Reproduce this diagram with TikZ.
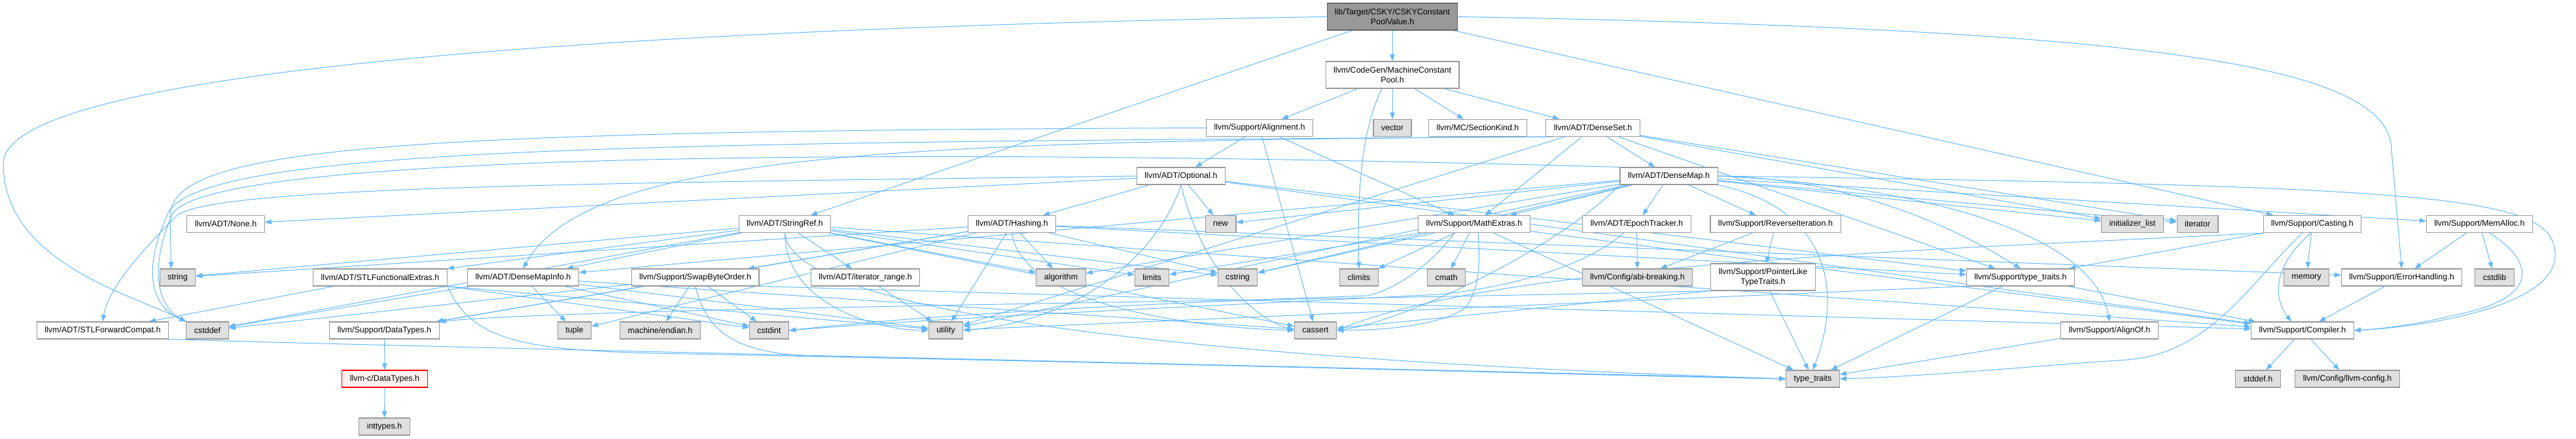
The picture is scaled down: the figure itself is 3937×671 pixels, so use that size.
\documentclass[tikz,border=0pt]{standalone}
\usepackage{fontspec}
\setmainfont{Liberation Sans}
\usepackage{xcolor}
\usepackage{tikz}
\usetikzlibrary{arrows.meta, backgrounds}

\definecolor{edgeblue}{HTML}{63B8FF}
\definecolor{boxgray}{HTML}{999999}
\definecolor{sysfill}{HTML}{E0E0E0}
\definecolor{rootline}{HTML}{666666}
\definecolor{extfill}{HTML}{FFF0F0}

\begin{document}
\begin{tikzpicture}[
    x=1pt, y=-1pt,
    font=\fontsize{12.5}{15}\selectfont,
    hdr/.style={
        rectangle,
        draw=boxgray,
        line width=1.1pt,
        fill=white,
        minimum height=26pt,
        inner xsep=12pt,
        inner ysep=2pt,
        align=center
    },
    sys/.style={hdr, fill=sysfill},
    mainhdr/.style={hdr, draw=rootline, fill=boxgray, minimum height=41pt},
    exthdr/.style={hdr, draw=red, fill=extfill},
    dep/.style={-{Triangle[length=10pt, width=7.5pt]}, draw=edgeblue, line width=1pt}
]
\useasboundingbox (0,0) rectangle (3937,671);

\node[mainhdr] (root)     at (2128, 25.5)  {lib/Target/CSKY/CSKYConstant\\PoolValue.h};
\node[hdr, minimum height=41pt] (mcp) at (2128, 114.5) {llvm/CodeGen/MachineConstant\\Pool.h};

\node[hdr]  (align)    at (1925, 195.5)   {llvm/Support/Alignment.h};
\node[sys]  (vec)      at (2128, 195.5)   {vector};
\node[hdr]  (seckind)  at (2258.5, 195.5) {llvm/MC/SectionKind.h};
\node[hdr]  (dset)     at (2434.5, 195.5) {llvm/ADT/DenseSet.h};

\node[hdr]  (opt)      at (1805, 269)     {llvm/ADT/Optional.h};
\node[hdr]  (dmap)     at (2550.5, 269)   {llvm/ADT/DenseMap.h};

\node[hdr]  (noneh)    at (345, 342.5)    {llvm/ADT/None.h};
\node[hdr]  (sref)     at (1199.5, 342.5) {llvm/ADT/StringRef.h};
\node[hdr]  (hash)     at (1546.5, 342.5) {llvm/ADT/Hashing.h};
\node[sys]  (newh)     at (1865.5, 342.5) {new};
\node[hdr]  (mathx)    at (2253, 342.5)   {llvm/Support/MathExtras.h};
\node[hdr]  (epoch)    at (2501.5, 342.5) {llvm/ADT/EpochTracker.h};
\node[hdr]  (reviter)  at (2713.5, 342.5) {llvm/Support/ReverseIteration.h};
\node[sys]  (initlist) at (3259, 342.5)   {initializer\_list};
\node[sys]  (iter)     at (3358.5, 342.5) {iterator};
\node[hdr]  (casting)  at (3534, 342.5)   {llvm/Support/Casting.h};
\node[hdr]  (memalloc) at (3789.5, 342.5) {llvm/Support/MemAlloc.h};

\node[sys]  (strh)     at (271.5, 424)    {string};
\node[hdr]  (stlfunc)  at (581, 424)      {llvm/ADT/STLFunctionalExtras.h};
\node[hdr]  (dmapinfo) at (799.5, 424)    {llvm/ADT/DenseMapInfo.h};
\node[hdr]  (swap)     at (1062.5, 424)   {llvm/Support/SwapByteOrder.h};
\node[hdr]  (itrange)  at (1322.5, 424)   {llvm/ADT/iterator\_range.h};
\node[sys]  (algo)     at (1621.5, 424)   {algorithm};
\node[sys]  (limits)   at (1760.5, 424)   {limits};
\node[sys]  (cstr)     at (1891.5, 424)   {cstring};
\node[sys]  (climits)  at (2077, 424)     {climits};
\node[sys]  (cmath)    at (2210.5, 424)   {cmath};
\node[sys]  (abibrk)   at (2502.5, 424)   {llvm/Config/abi-breaking.h};
\node[hdr, minimum height=41pt] (ptrlike) at (2694.5, 423.5) {llvm/Support/PointerLike\\TypeTraits.h};
\node[hdr]  (tth)      at (3088, 424)     {llvm/Support/type\_traits.h};
\node[sys]  (memory)   at (3525, 424)     {memory};
\node[hdr]  (errh)     at (3670.5, 424)   {llvm/Support/ErrorHandling.h};
\node[sys]  (cstdlib)  at (3812.5, 424)   {cstdlib};

\node[hdr]  (stlfwd)   at (157, 505)      {llvm/ADT/STLForwardCompat.h};
\node[sys]  (cstddef)  at (317, 505)      {cstddef};
\node[hdr]  (dtypes)   at (587.5, 505)    {llvm/Support/DataTypes.h};
\node[sys]  (tuple)    at (878, 505)      {tuple};
\node[sys]  (endian)   at (1009, 505)     {machine/endian.h};
\node[sys]  (cstdint)  at (1175.5, 505)   {cstdint};
\node[sys]  (utility)  at (1445.5, 505)   {utility};
\node[sys]  (cassert)  at (2010.5, 505)   {cassert};
\node[hdr]  (alignof)  at (3224, 505)     {llvm/Support/AlignOf.h};
\node[hdr]  (compiler) at (3519, 505)     {llvm/Support/Compiler.h};

\node[exthdr] (cdtypes) at (588, 579)     {llvm-c/DataTypes.h};
\node[sys]  (typetr)   at (2770.5, 579)   {type\_traits};
\node[sys]  (stddef)   at (3451, 579)     {stddef.h};
\node[sys]  (llvmcfg)  at (3587.5, 579)   {llvm/Config/llvm-config.h};

\node[sys]  (inttypes) at (587.5, 652)    {inttypes.h};

\begin{scope}[on background layer]
\draw[dep] (root) -- (sref);
\draw[dep] (root) -- (mcp);
\draw[dep] (root) -- (casting);
\draw[dep] (root.east) .. controls (3300,45) and (3655,100) .. (3655,230) -- (errh.north);
\draw[dep] (root.west) .. controls (900,45) and (5,110) .. (5,250) .. controls (5,400) and (200,450) .. (cstddef.north west);

\draw[dep] (mcp) -- (align);
\draw[dep] (mcp) -- (vec);
\draw[dep] (mcp) -- (seckind);
\draw[dep] (mcp) -- (dset);
\draw[dep] ([xshift=-16pt]mcp.south) .. controls (2080,200) and (2074,300) .. (climits.north);

\draw[dep] (align) -- (opt);
\draw[dep] (align) -- (mathx);
\draw[dep] (align) -- (cassert);
\draw[dep] (align.west) .. controls (600,200) and (262,225) .. (260,330) -- ([xshift=-10pt]strh.north);

\draw[dep] (dset) -- (dmap);
\draw[dep] (dset.south west) .. controls (1400,216) and (900,230) .. (dmapinfo.north);
\draw[dep] (dset) -- (mathx);
\draw[dep] (dset) -- (tth);
\draw[dep] (dset) -- (initlist);
\draw[dep] (dset) -- (iter);
\draw[dep] (dset) -- (utility);
\draw[dep] ([xshift=12pt]dset.south west) .. controls (1000,218) and (290,222) .. (255,330) .. controls (215,420) and (235,470) .. (cstddef.north west);

\draw[dep] (dmap) -- (dmapinfo);
\draw[dep] (dmap) -- (epoch);
\draw[dep] (dmap.east) .. controls (2950,285) and (3200,360) .. (alignof.north);
\draw[dep] (dmap.east) .. controls (3750,285) and (3905,300) .. (3905,390) .. controls (3905,470) and (3700,500) .. (compiler.east);
\draw[dep] (dmap) -- (mathx);
\draw[dep] (dmap) -- (memalloc);
\draw[dep] (dmap) -- (reviter);
\draw[dep] (dmap.east) .. controls (2800,272) and (2960,330) .. (tth.north);
\draw[dep] (dmap) -- (algo);
\draw[dep] (dmap.south west) .. controls (2380,380) and (2150,490) .. (cassert.east);
\draw[dep] (dmap.north west) .. controls (1500,228) and (300,226) .. (262,330) .. controls (225,420) and (245,470) .. (cstddef.north west);
\draw[dep] (dmap) -- (cstr);
\draw[dep] (dmap) -- (initlist);
\draw[dep] (dmap) -- (iter);
\draw[dep] (dmap) -- (newh);
\draw[dep] (dmap.south east) .. controls (2800,320) and (2815,450) .. (typetr.north);
\draw[dep] (dmap) -- (utility);

\draw[dep] (opt) -- (hash);
\draw[dep] (opt) -- (noneh);
\draw[dep] (opt.west) .. controls (900,280) and (320,285) .. (270,330) .. controls (220,380) and (165,440) .. (stlfwd.north);
\draw[dep] (opt) -- (compiler);
\draw[dep] (opt) -- (tth);
\draw[dep] (opt.south) .. controls (1830,390) and (1900,480) .. (cassert.west);
\draw[dep] (opt) -- (newh);
\draw[dep] (opt.south) .. controls (1770,390) and (1650,490) .. (utility.east);

\draw[dep] (hash) -- (dtypes);
\draw[dep] (hash) -- (errh);
\draw[dep] (hash) -- (swap);
\draw[dep] (hash) -- (tth);
\draw[dep] (hash) -- (algo);
\draw[dep] (hash.south) .. controls (1560,460) and (1800,500) .. (cassert.west);
\draw[dep] (hash) -- (cstr);
\draw[dep] (hash) -- (strh);
\draw[dep] (hash) -- (tuple);
\draw[dep] (hash) -- (utility);

\draw[dep] (sref) -- (dmapinfo);
\draw[dep] (sref) -- (stlfunc);
\draw[dep] (sref) -- (itrange);
\draw[dep] (sref) -- (compiler);
\draw[dep] (sref) -- (algo);
\draw[dep] (sref) -- (cassert);
\draw[dep] (sref) -- (cstddef);
\draw[dep] (sref) -- (cstr);
\draw[dep] (sref) -- (limits);
\draw[dep] (sref) -- (strh);
\draw[dep] (sref.south) .. controls (1210,520) and (2300,565) .. (typetr.west);
\draw[dep] (sref.south) .. controls (1200,470) and (1350,505) .. (utility.west);

\draw[dep] (mathx) -- (compiler);
\draw[dep] ([xshift=6pt]mathx.south) .. controls (2262,400) and (2262,440) .. (2240,470) .. controls (2200,500) and (2100,505) .. (cassert.east);
\draw[dep] (mathx) -- (climits);
\draw[dep] (mathx) -- (cmath);
\draw[dep] ([xshift=-30pt]mathx.south) .. controls (2190,400) and (2140,440) .. (2090,452) .. controls (1800,462) and (1450,478) .. (cstdint.east);
\draw[dep] (mathx) -- (cstr);
\draw[dep] (mathx) -- (limits);
\draw[dep] (mathx) -- (typetr);

\draw[dep] (epoch) -- (abibrk);
\draw[dep] ([xshift=-20pt]epoch.south) .. controls (2420,410) and (2300,440) .. (2200,450) .. controls (1800,470) and (1450,485) .. (cstdint.east);

\draw[dep] (reviter) -- (abibrk);
\draw[dep] (reviter) -- (ptrlike);

\draw[dep] (ptrlike.south west) .. controls (2000,460) and (900,470) .. (dtypes.north east);
\draw[dep] (ptrlike.south west) -- (cassert);
\draw[dep] (ptrlike) -- (typetr);

\draw[dep] (tth) -- (compiler);
\draw[dep] (tth) -- (typetr);
\draw[dep] (tth.south west) -- (utility);

\draw[dep] ([xshift=-2pt]casting.south) .. controls (3480,400) and (3470,450) .. ([xshift=-17pt]compiler.north);
\draw[dep] (casting) -- (memory);
\draw[dep] (casting) -- (tth);
\draw[dep] (casting.south west) .. controls (3000,380) and (2300,400) .. (cassert.east);
\draw[dep] ([xshift=-15pt]casting.south) .. controls (3440,430) and (3380,540) .. (3250,550) .. controls (3100,560) and (2950,575) .. (typetr.east);

\draw[dep] ([xshift=15pt]memalloc.south) .. controls (3875,400) and (3875,450) .. (3780,475) .. controls (3700,495) and (3650,502) .. (compiler.east);
\draw[dep] (memalloc) -- (errh);
\draw[dep] (memalloc) -- (cstdlib);

\draw[dep] (errh) -- (compiler);
\draw[dep] (alignof) -- (typetr);
\draw[dep] (compiler) -- (stddef);
\draw[dep] (compiler) -- (llvmcfg);

\draw[dep] (dmapinfo) -- (cassert);
\draw[dep] (dmapinfo) -- (cstddef);
\draw[dep] (dmapinfo) -- (cstdint);
\draw[dep] (dmapinfo) -- (tuple);
\draw[dep] (dmapinfo) -- (utility);

\draw[dep] (stlfunc) -- (stlfwd);
\draw[dep] (stlfunc.south east) -- (cstdint);
\draw[dep] (stlfunc.south east) .. controls (720,520) and (800,535) .. (1000,540) .. controls (1800,555) and (2500,575) .. (typetr.west);
\draw[dep] (stlfunc.south east) -- (utility);

\draw[dep] (stlfwd.south east) .. controls (700,532) and (2000,560) .. (typetr.west);
\draw[dep] (itrange) -- (utility);

\draw[dep] (swap.south east) -- (compiler);
\draw[dep] (swap) -- (dtypes);
\draw[dep] (swap) -- (cstddef);
\draw[dep] (swap) -- (cstdint);
\draw[dep] (swap.south) .. controls (1080,500) and (1110,540) .. (1250,545) .. controls (1900,558) and (2500,575) .. (typetr.west);
\draw[dep] (swap) -- (endian);

\draw[dep] (dtypes) -- (cdtypes);
\draw[dep] (cdtypes) -- (inttypes);
\end{scope}

\end{tikzpicture}
\end{document}
